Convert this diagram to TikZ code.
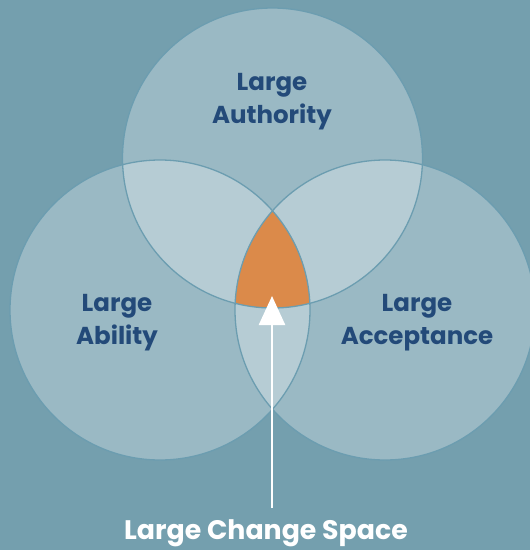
\documentclass[tikz,border=0pt]{standalone}
\usepackage{fontspec}
\setmainfont{Poppins}
\usetikzlibrary{arrows.meta}

\definecolor{backdrop}{HTML}{749FAE}
\definecolor{rim}{HTML}{6C9DB0}
\definecolor{core}{HTML}{DB8A4A}
\definecolor{labelblue}{HTML}{234A79}

\begin{document}
\begin{tikzpicture}[x=1pt,y=-1pt,
  set/.style={fill=white, fill opacity=0.28},
  setrim/.style={draw=rim, line width=1.3pt},
  setlabel/.style={text=labelblue, font=\bfseries\fontsize{24.5}{33}\selectfont, align=center, inner sep=0pt},
  pointer/.style={draw=white, line width=2.6pt, -{Triangle[width=26pt,length=29pt]}}]

  % backdrop
  \useasboundingbox (0,0) rectangle (530,550);
  \fill[backdrop] (0,0) rectangle (530,550);

  % circle centres
  \coordinate (cTop) at (272.5,158);
  \coordinate (cLeft) at (160,310);
  \coordinate (cRight) at (385,310);

  % the three sets
  \fill[set] (cTop) circle[radius=150pt];
  \fill[set] (cLeft) circle[radius=150pt];
  \fill[set] (cRight) circle[radius=150pt];

  % common part
  \begin{scope}
    \clip (cLeft) circle[radius=150pt];
    \clip (cRight) circle[radius=150pt];
    \fill[core] (cTop) circle[radius=150pt];
  \end{scope}

  \draw[setrim] (cTop) circle[radius=150pt];
  \draw[setrim] (cLeft) circle[radius=150pt];
  \draw[setrim] (cRight) circle[radius=150pt];

  % labels
  \node[setlabel] (authority) at (272,102) {Large\\Authority};
  \node[setlabel] (ability) at (117,323) {Large\\Ability};
  \node[setlabel] (acceptance) at (417,323) {Large\\Acceptance};

  % pointer
  \node[text=white, font=\bfseries\fontsize{26.8}{30}\selectfont, inner sep=0pt, anchor=north] (space) at (266,519) {Large Change Space};
  \coordinate (tip) at (272,296);
  \draw[pointer, shorten <=11pt] (space.north -| tip) -- (tip);
\end{tikzpicture}
\end{document}
